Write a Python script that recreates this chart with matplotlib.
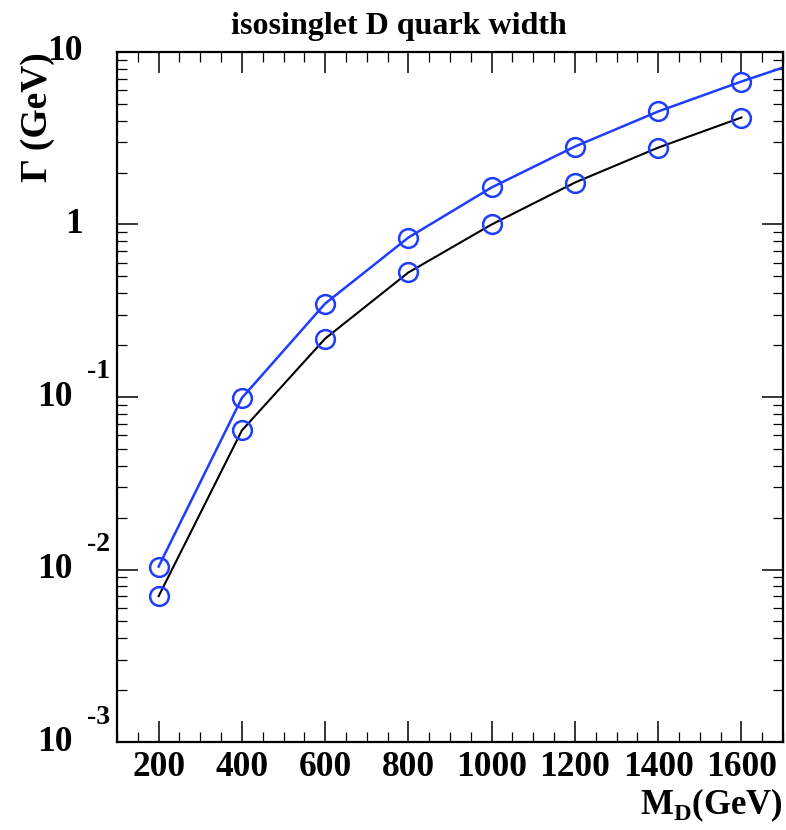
import matplotlib
matplotlib.use("Agg")
import matplotlib.pyplot as plt
import matplotlib.transforms as mtransforms
from matplotlib.ticker import LogLocator, MultipleLocator, NullFormatter, FixedLocator

plt.rcParams['font.family'] = ['Liberation Serif', 'DejaVu Serif']
plt.rcParams['font.weight'] = 'bold'
plt.rcParams['mathtext.fontset'] = 'custom'
plt.rcParams['mathtext.rm'] = 'Liberation Serif:bold'

# quark mass (GeV)
mass = [200, 400, 600, 800, 1000, 1200, 1400, 1600]
# widths
width_black = [0.0070, 0.064, 0.218, 0.527, 1.0, 1.75, 2.79, 4.17]
width_blue = [0.0104, 0.0987, 0.348, 0.84, 1.64, 2.83, 4.52, 6.74]
# blue curve keeps going past the frame
mass_blue_ext = [1800]
width_blue_ext = [9.8]

xticks = [200, 400, 600, 800, 1000, 1200, 1400, 1600]
ydecades = [1e-3, 1e-2, 1e-1, 1, 10]
ylabels_plain = {1: "1", 10: "10"}
ylabels_exp = {1e-3: "-3", 1e-2: "-2", 1e-1: "-1"}

BLUE = '#1f3dff'

fig = plt.figure(figsize=(7.86, 8.30), dpi=100)
ax = fig.add_axes([117 / 786, 88 / 830, 666 / 786, 690 / 830])

ax.plot(mass, width_black, color='black', lw=1.5, zorder=2)
ax.plot(mass + mass_blue_ext, width_blue + width_blue_ext, color=BLUE, lw=1.8, zorder=2)
for w in (width_black, width_blue):
    ax.plot(mass, w, ls='none', marker='o', ms=13.5, mfc='none', mec=BLUE, mew=1.8, zorder=3)

ax.set_yscale('log')
ax.set_xlim(100, 1700)
ax.set_ylim(1e-3, 10)

ax.xaxis.set_major_locator(FixedLocator(xticks))
ax.xaxis.set_minor_locator(MultipleLocator(50))
ax.yaxis.set_major_locator(FixedLocator(ydecades))
ax.yaxis.set_minor_locator(LogLocator(base=10, subs=range(2, 10)))
ax.yaxis.set_major_formatter(NullFormatter())
ax.yaxis.set_minor_formatter(NullFormatter())

ax.tick_params(which='both', direction='in', top=True, right=True, labelsize=25.5)
ax.tick_params(which='major', length=15, width=1.1, pad=6.5)
ax.tick_params(which='minor', length=7.5, width=0.9)
for s in ax.spines.values():
    s.set_linewidth(1.6)
for lab in ax.get_xticklabels():
    lab.set_fontweight('bold')

# ROOT style y labels
ytr = ax.get_yaxis_transform()
up = mtransforms.offset_copy(ytr, fig=fig, x=0, y=25, units='dots')
for v, t in ylabels_plain.items():
    ax.text(-0.051, v, t, transform=ytr, ha='right', va='center', fontsize=25.5, fontweight='bold')
for v, t in ylabels_exp.items():
    ax.text(-0.066, v, "10", transform=ytr, ha='right', va='center', fontsize=25.5, fontweight='bold')
    ax.text(-0.0105, v, t, transform=up, ha='right', va='center', fontsize=20, fontweight='bold')

ax.set_ylabel('Γ (GeV)', loc='top', fontsize=27, fontweight='bold')
ax.yaxis.set_label_coords(-0.093, 1.0)
ax.set_xlabel(r'M$_{\mathregular{D}}$(GeV)', loc='right', fontsize=25, fontweight='bold')
ax.xaxis.set_label_coords(1.0, -0.064)

fig.text(0.507, 0.985, 'isosinglet D quark width', ha='center', va='top', fontsize=23, fontweight='bold')

fig.savefig('out.png', dpi=100)
